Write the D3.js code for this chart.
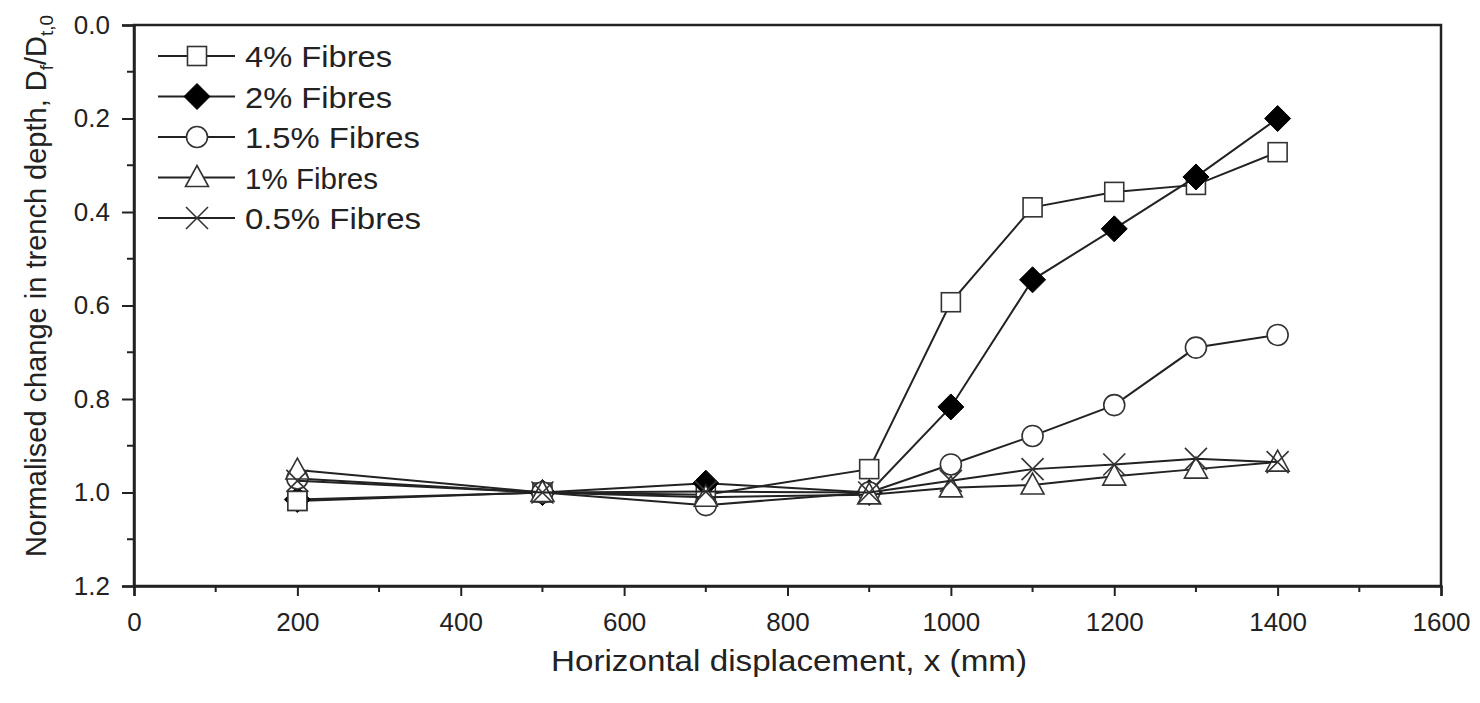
<!DOCTYPE html>
<html><head><meta charset="utf-8">
<script src="https://cdn.jsdelivr.net/npm/d3@7"></script>
<style>body{margin:0;background:#fff;} svg{display:block;} text{font-family:"Liberation Sans",Arial,sans-serif;fill:#222;}</style>
</head><body><svg id="c" width="1480" height="703"></svg>
<script>
const xValues = [200, 500, 700, 900, 1000, 1100, 1200, 1300, 1400];
const seriesNames = ["4% Fibres", "2% Fibres", "1.5% Fibres", "1% Fibres", "0.5% Fibres"];
const fibres4  = [1.018, 1.0, 1.005, 0.95, 0.593, 0.39, 0.357, 0.342, 0.272];
const fibres2  = [1.015, 1.0, 0.980, 1.0, 0.817, 0.545, 0.436, 0.325, 0.200];
const fibres15 = [0.970, 1.0, 1.027, 1.0, 0.940, 0.879, 0.813, 0.690, 0.663];
const fibres1  = [0.952, 1.0, 1.010, 1.005, 0.990, 0.984, 0.965, 0.950, 0.935];
const fibres05 = [0.975, 1.0, 0.998, 1.0, 0.975, 0.950, 0.940, 0.928, 0.935];
const markers = ["square", "diamond", "circle", "triangle", "cross"];
const xTicks = [0, 200, 400, 600, 800, 1000, 1200, 1400, 1600];
const yTicks = [0.0, 0.2, 0.4, 0.6, 0.8, 1.0, 1.2];

const series = [fibres4, fibres2, fibres15, fibres1, fibres05];
const svg = d3.select("#c");
const L = 134, R = 1441, T = 25, B = 586;
const x = d3.scaleLinear().domain([0, 1600]).range([L, R]);
const y = d3.scaleLinear().domain([0, 1.2]).range([T, B]);
const INK = "#222";

// frame
svg.append("rect").attr("x", L).attr("y", T).attr("width", R - L).attr("height", B - T)
  .attr("fill", "none").attr("stroke", INK).attr("stroke-width", 2.5);

// axes
const xAxis = d3.axisBottom(x).tickValues(xTicks).tickSize(10).tickPadding(16.5).tickFormat(d3.format("d"));
const gx = svg.append("g").attr("transform", `translate(0,${B})`).call(xAxis);
const xMinor = d3.range(100, 1600, 200);
gx.selectAll(".minor").data(xMinor).enter().append("line").attr("class", "minor")
  .attr("x1", d => x(d)).attr("x2", d => x(d)).attr("y1", 0).attr("y2", 6).attr("stroke", INK).attr("stroke-width", 2);

const yAxis = d3.axisLeft(y).tickValues(yTicks).tickSize(12).tickPadding(12).tickFormat(d3.format(".1f"));
const gy = svg.append("g").attr("transform", `translate(${L},0)`).call(yAxis);
const yMinor = [0.1, 0.3, 0.5, 0.7, 0.9, 1.1];
gy.selectAll(".minor").data(yMinor).enter().append("line").attr("class", "minor")
  .attr("x1", 0).attr("x2", -7).attr("y1", d => y(d)).attr("y2", d => y(d)).attr("stroke", INK).attr("stroke-width", 2);

[gx, gy].forEach(g => {
  g.select(".domain").attr("stroke", INK).attr("stroke-width", 2.5);
  g.selectAll(".tick line").attr("stroke", INK).attr("stroke-width", 2);
  g.selectAll(".tick text").attr("font-size", 26).attr("fill", "#333")
    .style("font-family", "Liberation Sans, Arial, sans-serif");
});

// axis titles
svg.append("text").attr("x", 551).attr("y", 671)
  .attr("font-size", 30).attr("textLength", 476).attr("lengthAdjust", "spacingAndGlyphs")
  .text("Horizontal displacement, x (mm)");
const yt = svg.append("text").attr("transform", `translate(46,${286}) rotate(-90)`)
  .attr("text-anchor", "middle").attr("font-size", 29);
yt.append("tspan").text("Normalised change in trench depth, D");
yt.append("tspan").attr("font-size", 19).attr("dy", 7).text("f");
yt.append("tspan").attr("dy", -7).text("/D");
yt.append("tspan").attr("font-size", 19).attr("dy", 7).text("t,0");

// marker drawer
function drawMarker(g, type, cx, cy) {
  if (type === "square") {
    const s = 9.5;
    g.append("rect").attr("x", cx - s).attr("y", cy - s).attr("width", 2 * s).attr("height", 2 * s)
      .attr("fill", "#fff").attr("stroke", "#333").attr("stroke-width", 1.6);
  } else if (type === "diamond") {
    const d = 13;
    g.append("path").attr("d", `M${cx},${cy - d}L${cx + d},${cy}L${cx},${cy + d}L${cx - d},${cy}Z`)
      .attr("fill", "#000").attr("stroke", "#000").attr("stroke-width", 1);
  } else if (type === "circle") {
    g.append("circle").attr("cx", cx).attr("cy", cy).attr("r", 10.5)
      .attr("fill", "#fff").attr("stroke", "#333").attr("stroke-width", 1.6);
  } else if (type === "triangle") {
    g.append("path").attr("d", `M${cx},${cy - 12}L${cx + 11.5},${cy + 9}L${cx - 11.5},${cy + 9}Z`)
      .attr("fill", "#fff").attr("stroke", "#333").attr("stroke-width", 1.6);
  } else if (type === "cross") {
    const c = 11;
    g.append("path").attr("d", `M${cx - c},${cy - c}L${cx + c},${cy + c}M${cx - c},${cy + c}L${cx + c},${cy - c}`)
      .attr("fill", "none").attr("stroke", "#333").attr("stroke-width", 1.6);
  }
}

const line = d3.line().x((d, i) => x(xValues[i])).y(d => y(d));
// draw order: 2% markers sit above 4% (as at x=1300), but 4% square is on top at x=200
const order = [0, 1, 2, 3, 4];
order.forEach(k => {
  const g = svg.append("g");
  g.append("path").attr("d", line(series[k])).attr("fill", "none").attr("stroke", INK).attr("stroke-width", 2);
  series[k].forEach((v, i) => drawMarker(g, markers[k], x(xValues[i]), y(v)));
});
// re-draw the 4% square at x=200 on top (it hides the 2% marker there in the original)
drawMarker(svg.append("g"), "square", x(xValues[0]), y(fibres4[0]));

// legend
const legY = [56, 96.5, 137, 177.5, 218];
const legW = [147, 147, 175, 133, 176];
seriesNames.forEach((name, k) => {
  const g = svg.append("g");
  g.append("line").attr("x1", 158).attr("x2", 235).attr("y1", legY[k]).attr("y2", legY[k])
    .attr("stroke", INK).attr("stroke-width", 2);
  drawMarker(g, markers[k], 197, legY[k]);
  g.append("text").attr("x", 245).attr("y", legY[k] + 11).attr("font-size", 30)
    .attr("textLength", legW[k]).attr("lengthAdjust", "spacingAndGlyphs").text(name);
});
</script></body></html>
